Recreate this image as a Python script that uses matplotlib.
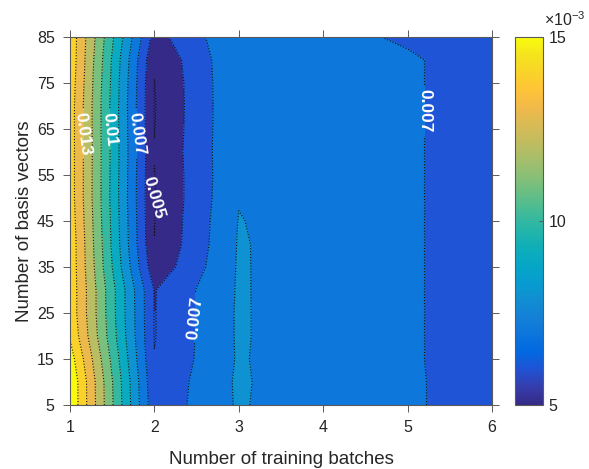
import numpy as np
import matplotlib
matplotlib.use('Agg')
import matplotlib.pyplot as plt
from matplotlib.colors import LinearSegmentedColormap, Normalize
from matplotlib.cm import ScalarMappable

#-----------------------------------------------------------------------------

batches = [1, 2, 3, 4, 5, 6] #number of training batches (x)
basis = [5, 10, 15, 20, 25, 30, 35, 40, 45, 50, 55, 60, 65, 70, 75, 80, 85] #number of basis vectors (y)

#error for each batch count, one value per basis size
err_b1 = [0.0159, 0.0159, 0.0155, 0.0149, 0.0147, 0.0147, 0.0147, 0.0147, 0.0146,
          0.0145, 0.0145, 0.0145, 0.0145, 0.0145, 0.0146, 0.0147, 0.0147]
err_b2 = [0.0063, 0.0062, 0.00603, 0.00596, 0.00596, 0.00595, 0.0053, 0.00501, 0.00498,
          0.00495, 0.00498, 0.00503, 0.00498, 0.00495, 0.00498, 0.0051, 0.0056]
err_b3 = [0.00812, 0.00815, 0.0081, 0.00812, 0.00812, 0.0081, 0.0081, 0.00808, 0.00804,
          0.00795, 0.0079, 0.0079, 0.0079, 0.0079, 0.0079, 0.0079, 0.0079]
err_b4 = [0.0072, 0.0072, 0.0073, 0.0073, 0.0073, 0.0074, 0.0074, 0.0075, 0.0075,
          0.0075, 0.0075, 0.0075, 0.0075, 0.0075, 0.0075, 0.0075, 0.0075]
err_b5 = [0.00723, 0.00723, 0.0072, 0.0072, 0.0072, 0.0072, 0.0072, 0.0072, 0.0072,
          0.0072, 0.0072, 0.0072, 0.0072, 0.0072, 0.0072, 0.0072, 0.00678]
err_b6 = [0.0062, 0.0062, 0.0062, 0.0062, 0.0062, 0.0062, 0.0062, 0.0062, 0.0062,
          0.0062, 0.0062, 0.0062, 0.0062, 0.0062, 0.0062, 0.0062, 0.0062]

levels = [0.005, 0.006, 0.007, 0.008, 0.009, 0.010, 0.011, 0.012, 0.013, 0.014, 0.015]
label_levels = [0.005, 0.007, 0.010, 0.013]
label_spots = [(1.14, 64), (1.46, 65), (1.78, 64), (2.0, 50), (2.5, 24), (5.2, 69)]
label_rot = [-82, -84, -82, -74, 84, -90]

#-----------------------------------------------------------------------------

'''parula colormap (matlab), every 3rd entry'''
parula_pts = [
    (0.2081, 0.1663, 0.5292), (0.2081, 0.2386, 0.6771), (0.1253, 0.3242, 0.8303),
    (0.0060, 0.4086, 0.8828), (0.0498, 0.4586, 0.8641), (0.0779, 0.5040, 0.8384),
    (0.0641, 0.5570, 0.8240), (0.0265, 0.6137, 0.8135), (0.0228, 0.6535, 0.7768),
    (0.0590, 0.6838, 0.7254), (0.1453, 0.7098, 0.6646), (0.2586, 0.7317, 0.5954),
    (0.3953, 0.7459, 0.5244), (0.5300, 0.7491, 0.4661), (0.6473, 0.7456, 0.4188),
    (0.7525, 0.7384, 0.3768), (0.8507, 0.7299, 0.3360), (0.9450, 0.7261, 0.2886),
    (0.9990, 0.7653, 0.2164), (0.9789, 0.8271, 0.1633), (0.9589, 0.8949, 0.1132),
    (0.9763, 0.9831, 0.0538)]
parula = LinearSegmentedColormap.from_list('parula', parula_pts, N=256)
norm = Normalize(vmin=levels[0], vmax=levels[-1])

plt.rcParams['font.family'] = ['Liberation Sans', 'DejaVu Sans']
plt.rcParams['mathtext.fontset'] = 'custom'
plt.rcParams['mathtext.rm'] = 'Liberation Sans'
txt_col = '#262626'
ax_col = '#5a5a5a'

fig = plt.figure(figsize=(5.89, 4.69), dpi=100)
ax = fig.add_axes([70/589, 64/469, 422/589, 368/469])
cax = fig.add_axes([515/589, 64/469, 28/589, 368/469])

X, Y = np.meshgrid(batches, basis)
Z = np.column_stack([err_b1, err_b2, err_b3, err_b4, err_b5, err_b6])

#matlab fills each band with the colour of its lower level
fill_levels = [0.0] + levels + [1.0]
fill_cols = [parula(norm(levels[0]))] + [parula(norm(l)) for l in levels]
ax.contourf(X, Y, Z, levels=fill_levels, colors=fill_cols)

#dotted lines: unlabelled levels and labelled levels as two sets
plain_levels = [l for l in levels if not np.isclose(l, label_levels).any()]
cs_plain = ax.contour(X, Y, Z, levels=plain_levels, colors='#111111', linewidths=0.8)
cs = ax.contour(X, Y, Z, levels=label_levels, colors='#111111', linewidths=0.8)
for c in (cs_plain, cs):
    c.set_linestyle((0, (1, 1.6)))

ax.clabel(cs, manual=label_spots, inline=True, inline_spacing=4, fmt='%g',
          colors='w', fontsize=12.5)
for t, r in zip(cs.labelTexts, label_rot):
    t.set_rotation(r)
    t.set_fontweight('bold')

ax.set_xlim(1, 6)
ax.set_ylim(5, 85)
ax.set_xticks(batches)
ax.set_yticks(basis[::2])
ax.tick_params(direction='out', top=True, right=True, length=5, width=0.7,
               color=ax_col, labelcolor=txt_col, labelsize=11.5, pad=6)
for s in ax.spines.values():
    s.set_color(ax_col)
    s.set_linewidth(0.8)
ax.set_xlabel('Number of training batches', fontsize=13.5, color=txt_col)
ax.set_ylabel('Number of basis vectors', fontsize=13.5, color=txt_col)
ax.xaxis.set_label_coords(0.5, -0.125)
ax.yaxis.set_label_coords(-0.088, 0.5)

#-----------------------------------------------------------------------------

cb = fig.colorbar(ScalarMappable(norm=norm, cmap=parula), cax=cax)
cb.set_ticks([0.005, 0.01, 0.015])
cb.set_ticklabels(['5', '10', '15'])
cax.tick_params(direction='in', length=3, width=0.7, color=ax_col,
                labelcolor=txt_col, labelsize=11.5, pad=4)
cb.outline.set_edgecolor(ax_col)
cb.outline.set_linewidth(0.8)
cax.text(1.04, 1.022, r'×$\mathregular{10^{-3}}$', transform=cax.transAxes,
         ha='left', va='bottom', fontsize=11.5, color=txt_col)

fig.savefig('out.png', dpi=100)
